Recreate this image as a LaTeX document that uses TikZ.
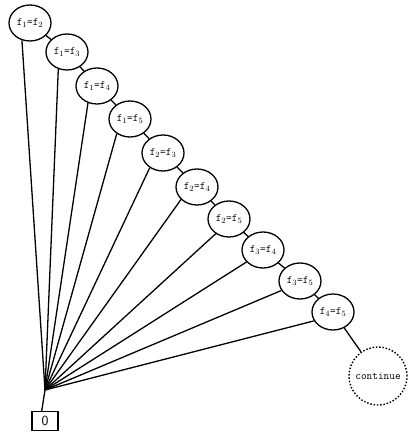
\documentclass[tikz,border=0pt]{standalone}
\usetikzlibrary{shapes.geometric}
\begin{document}
\begin{tikzpicture}[x=1pt,y=-1pt,
  cond/.style={ellipse,draw,line width=1.3pt,minimum width=42pt,minimum height=36pt,inner sep=0pt,font=\ttfamily\fontsize{11}{13}\selectfont},
  contnode/.style={circle,draw,line width=1.4pt,dash pattern=on 1.5pt off 1.8pt,minimum size=58pt,inner sep=0pt,font=\ttfamily\fontsize{11}{13}\selectfont},
  zerobox/.style={rectangle,draw,line width=1.2pt,minimum width=26pt,minimum height=19pt,inner sep=0pt,font=\sffamily\fontsize{14}{16}\selectfont},
  edge/.style={line width=1.3pt}]
\useasboundingbox (0,0) rectangle (419,438);
\newcommand{\eq}[2]{f$_{#1}$=f$_{#2}$}
\node[cond] (a) at (30,23) {\eq12};
\node[cond] (b) at (67,52) {\eq13};
\node[cond] (c) at (97,86) {\eq14};
\node[cond] (d) at (130,119) {\eq15};
\node[cond] (e) at (163,153) {\eq23};
\node[cond] (f) at (197,187) {\eq24};
\node[cond] (g) at (229,219) {\eq25};
\node[cond] (h) at (263,250) {\eq34};
\node[cond] (i) at (300,281) {\eq35};
\node[cond] (j) at (333,312) {\eq45};
\node[contnode] (k) at (378,376) {continue};
\node[zerobox] (z) at (45,421) {0};
\coordinate (hub) at (45,390);
\draw[edge] (a) -- (b);
\draw[edge] (b) -- (c);
\draw[edge] (c) -- (d);
\draw[edge] (d) -- (e);
\draw[edge] (e) -- (f);
\draw[edge] (f) -- (g);
\draw[edge] (g) -- (h);
\draw[edge] (h) -- (i);
\draw[edge] (i) -- (j);
\draw[edge] (j) -- (k);
\draw[edge] (hub) -- (a.245);
\draw[edge] (hub) -- (b.243);
\draw[edge] (hub) -- (c.242);
\draw[edge] (hub) -- (d.228);
\draw[edge] (hub) -- (e.228);
\draw[edge] (hub) -- (f.218);
\draw[edge] (hub) -- (g.228);
\draw[edge] (hub) -- (h.216);
\draw[edge] (hub) -- (i.207);
\draw[edge] (hub) -- (j.205);
\draw[edge] (hub) -- (z.108);
\end{tikzpicture}
\end{document}
